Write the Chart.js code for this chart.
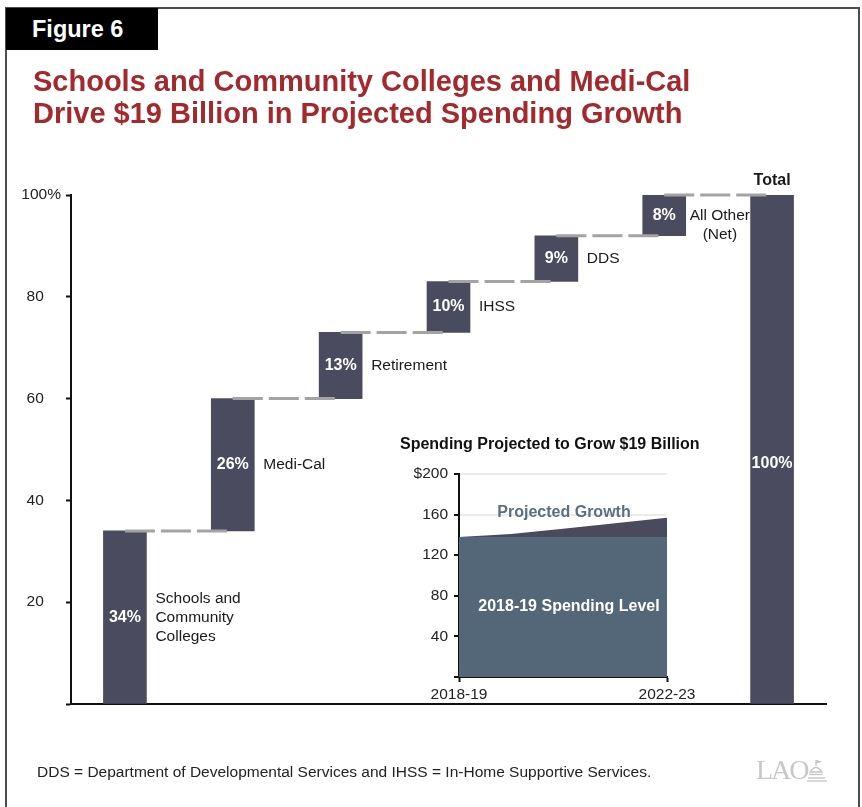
<!DOCTYPE html>
<html>
<head>
<meta charset="utf-8">
<script src="https://cdn.jsdelivr.net/npm/chart.js@4.4.1/dist/chart.umd.min.js"></script>
<style>
  body { margin: 0; background: #fff; font-family: "Liberation Sans", Arial, Helvetica, sans-serif; }
  #page { position: relative; width: 862px; height: 807px; overflow: hidden; background: #fff; }
  #frame { position: absolute; left: 5px; top: 7px; width: 851px; height: 840px; border: 2px solid #4d4d4d; }
  #tab { position: absolute; left: 6px; top: 8px; width: 152px; height: 42px; background: #000; }
  #tab span { position: absolute; left: 26px; top: 8px; color: #fff; font-weight: bold; font-size: 23.5px; line-height: 26px; }
  #title { position: absolute; left: 33px; top: 65px; color: #a3292c; font-weight: bold; font-size: 29px; line-height: 32px; white-space: nowrap; }
  #insetTitle { position: absolute; left: 400px; top: 435px; font-weight: bold; font-size: 16px; line-height: 18px; color: #111; white-space: nowrap; }
  #note { position: absolute; left: 37px; top: 763px; font-size: 15.5px; line-height: 18px; color: #222; white-space: nowrap; }
  #lao { position: absolute; left: 756px; top: 755px; font-family: "Liberation Serif", "Times New Roman", serif; font-size: 28px; line-height: 30px; letter-spacing: -2px; color: #c8c8c8; }
  #dome { position: absolute; left: 807px; top: 760px; }
  #main { position: absolute; left: 0; top: 0; }
  #inset { position: absolute; left: 380px; top: 425px; }
</style>
</head>
<body>
<div id="page">
  <div id="frame"></div>
  <canvas id="main" width="862" height="807"></canvas>
  <canvas id="inset" width="330" height="290"></canvas>
  <div id="tab"><span>Figure 6</span></div>
  <div id="title">Schools and Community Colleges and Medi-Cal<br>Drive $19 Billion in Projected Spending Growth</div>
  <div id="insetTitle">Spending Projected to Grow $19 Billion</div>
  <div id="note">DDS = Department of Developmental Services and IHSS = In-Home Supportive Services.</div>
  <div id="lao">LAO</div>
  <svg id="dome" width="21" height="22" viewBox="0 0 21 22">
    <g fill="none" stroke="#c4c4c4" stroke-width="1.3">
      <line x1="9" y1="0" x2="9" y2="6"/>
      <path d="M9 0.5 L13 1.8 L9 3" fill="#c4c4c4"/>
      <path d="M3 12 Q9 3 15 12 Z"/>
      <line x1="2" y1="14.5" x2="16" y2="14.5"/>
      <line x1="1" y1="18" x2="18" y2="18"/>
      <line x1="0" y1="21" x2="20" y2="21"/>
    </g>
  </svg>
</div>
<script>
// main waterfall
const categories = [
  ["Schools and", "Community", "Colleges"],
  ["Medi-Cal"],
  ["Retirement"],
  ["IHSS"],
  ["DDS"],
  ["All Other", "(Net)"],
  ["Total"]
];
const shares = [34, 26, 13, 10, 9, 8];
const totalShare = 100;
const yTicks = [0, 20, 40, 60, 80, 100];

// inset area chart ($ billions)
const insetYears = ["2018-19", "2019-20", "2020-21", "2021-22", "2022-23"];
const baseLevel = [138, 138, 138, 138, 138];
const projected = [138, 141, 146, 151.5, 157];
const insetTicks = [0, 40, 80, 120, 160, 200];

const FONT = '"Liberation Sans", Arial, Helvetica, sans-serif';
const barColor = "#4b4b5f";

let running = 0;
const ranges = shares.map(v => {
  const r = [running, running + v];
  running += v;
  return r;
});
ranges.push([0, totalShare]);

const connectors = ranges.slice(0, -1).map((r, i) => ({
  type: "line",
  data: [{ x: i, y: r[1] }, { x: i + 1, y: r[1] }],
  borderColor: "#a3a3a3",
  borderWidth: 3,
  borderDash: [30, 6],
  pointRadius: 0,
  fill: false,
  clip: false,
  order: 0
}));

const waterfallLabels = {
  id: "waterfallLabels",
  afterDatasetsDraw(chart) {
    const ctx = chart.ctx;
    const bars = chart.getDatasetMeta(0).data;
    const last = bars.length - 1;
    ctx.save();
    bars.forEach((bar, i) => {
      const mid = (bar.y + bar.base) / 2;
      const value = i === last ? totalShare : shares[i];
      ctx.fillStyle = "#fff";
      ctx.font = "bold 16px " + FONT;
      ctx.textAlign = "center";
      ctx.textBaseline = "middle";
      ctx.fillText(value + "%", bar.x, i === last ? mid + 14 : mid);

      const lines = categories[i];
      ctx.fillStyle = "#1a1a1a";
      if (i === last) {
        ctx.textBaseline = "bottom";
        ctx.fillText(lines[0], bar.x, bar.y - 6);
        return;
      }
      ctx.font = "15.5px " + FONT;
      const lh = 19;
      const x0 = bar.x + bar.width / 2 + (lines.length > 1 && i === 5 ? 4 : 9);
      if (i === 5) {
        const w = Math.max(...lines.map(l => ctx.measureText(l).width));
        ctx.textAlign = "center";
        lines.forEach((l, k) => ctx.fillText(l, x0 + w / 2, mid + k * lh));
      } else {
        ctx.textAlign = "left";
        const top = mid - (lines.length - 1) * lh / 2;
        lines.forEach((l, k) => ctx.fillText(l, x0, top + k * lh));
      }
    });
    ctx.restore();
  }
};

new Chart(document.getElementById("main"), {
  type: "bar",
  data: {
    datasets: [
      {
        data: ranges.map((r, i) => ({ x: i, y: r })),
        backgroundColor: barColor,
        barThickness: 43,
        borderSkipped: false,
        order: 1
      },
      ...connectors
    ]
  },
  options: {
    responsive: false,
    animation: false,
    events: [],
    layout: { padding: { top: 195, right: 36, bottom: 103, left: 0 } },
    plugins: { legend: { display: false }, tooltip: { enabled: false } },
    scales: {
      x: {
        type: "linear",
        min: -0.5,
        max: categories.length - 0.5,
        offset: false,
        ticks: { display: false },
        grid: { display: false },
        border: { color: "#111", width: 2 },
        afterFit: s => { s.height = 0; }
      },
      y: {
        min: yTicks[0],
        max: yTicks[yTicks.length - 1],
        afterBuildTicks: s => { s.ticks = yTicks.map(v => ({ value: v })); },
        ticks: {
          padding: 5,
          color: "#222",
          font: { family: FONT, size: 15.5 },
          callback: v => v === 0 ? "" : (v === 100 ? v + "%" : v + "    ")
        },
        grid: { drawOnChartArea: false, tickColor: "#111", tickLength: 5, tickWidth: 2 },
        border: { color: "#111", width: 2 },
        afterFit: s => { s.width = 71; }
      }
    }
  },
  plugins: [waterfallLabels]
});

const insetText = {
  id: "insetText",
  afterDatasetsDraw(chart) {
    const { ctx, chartArea, scales } = chart;
    const cx = (chartArea.left + chartArea.right) / 2;
    ctx.save();
    ctx.font = "bold 16px " + FONT;
    ctx.textAlign = "center";
    ctx.textBaseline = "middle";
    ctx.fillStyle = "#5b6f82";
    ctx.fillText("Projected Growth", cx + 1, scales.y.getPixelForValue(162));
    ctx.fillStyle = "#fff";
    ctx.fillText("2018-19 Spending Level", cx + 6, scales.y.getPixelForValue(69));
    ctx.restore();
  }
};

new Chart(document.getElementById("inset"), {
  type: "line",
  data: {
    labels: insetYears,
    datasets: [
      { data: baseLevel, fill: "origin", backgroundColor: "#536779", borderWidth: 0, pointRadius: 0 },
      { data: projected, fill: "-1", backgroundColor: "#4a4a5f", borderWidth: 0, pointRadius: 0 }
    ]
  },
  options: {
    responsive: false,
    animation: false,
    events: [],
    layout: { padding: { top: 49, right: 43, bottom: 0, left: 0 } },
    plugins: { legend: { display: false }, tooltip: { enabled: false } },
    scales: {
      x: {
        offset: false,
        ticks: {
          autoSkip: false,
          maxRotation: 0,
          padding: 3,
          color: "#222",
          font: { family: FONT, size: 15.5 },
          callback: (v, i) => (i === 0 || i === insetYears.length - 1) ? insetYears[i] : ""
        },
        grid: {
          drawOnChartArea: false,
          tickLength: 5,
          tickWidth: 2,
          tickColor: c => (c.index === 0 || c.index === insetYears.length - 1) ? "#111" : "rgba(0,0,0,0)"
        },
        border: { color: "#111", width: 2 },
        afterFit: s => { s.height = 38; }
      },
      y: {
        min: insetTicks[0],
        max: insetTicks[insetTicks.length - 1],
        afterBuildTicks: s => { s.ticks = insetTicks.map(v => ({ value: v })); },
        ticks: {
          padding: 6,
          color: "#222",
          font: { family: FONT, size: 15.5 },
          callback: v => v === 0 ? "" : (v === 200 ? "$" + v : v)
        },
        grid: { color: "#ebebeb", lineWidth: 2, tickColor: "#111", tickLength: 5, tickWidth: 2 },
        border: { color: "#111", width: 2 },
        afterFit: s => { s.width = 79; }
      }
    }
  },
  plugins: [insetText]
});
</script>
</body>
</html>
